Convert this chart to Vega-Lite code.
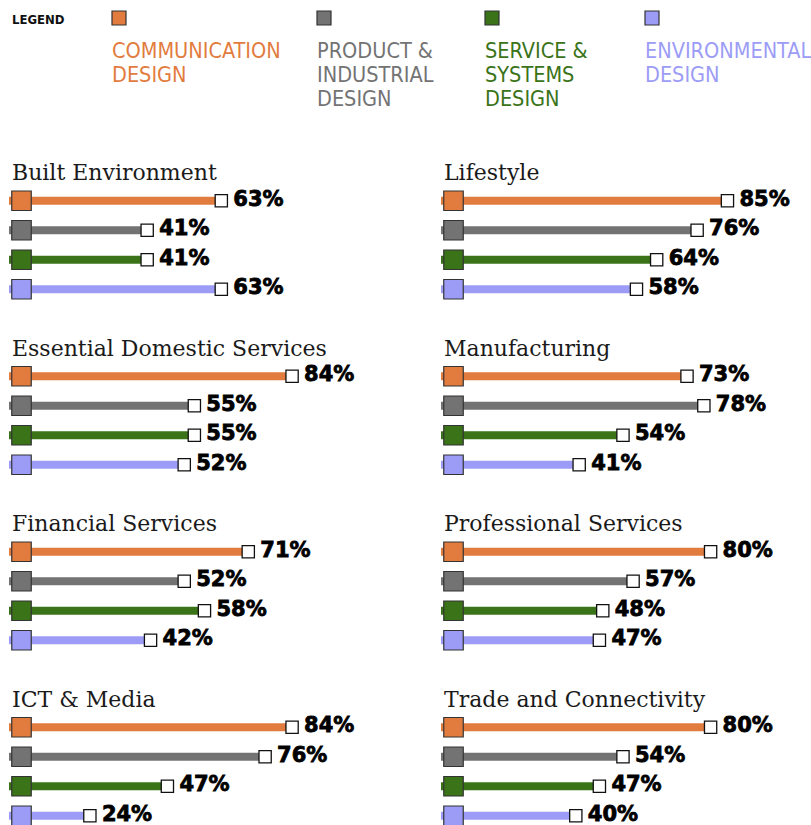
{
  "$schema": "https://vega.github.io/schema/vega-lite/v6.json",
  "padding": {"left": 9, "top": 0, "right": 0, "bottom": 0},
  "background": "white",
  "config": {"view": {"stroke": null}, "header": {"labels": false, "title": null}},
  "datasets": {
    "legend": [
      {"key": "LEGEND", "label": "LEGEND"},
      {"key": "Communication Design", "label": "COMMUNICATION\nDESIGN"},
      {"key": "Product & Industrial Design", "label": "PRODUCT &\nINDUSTRIAL\nDESIGN"},
      {"key": "Service & Systems Design", "label": "SERVICE &\nSYSTEMS\nDESIGN"},
      {"key": "Environmental Design", "label": "ENVIRONMENTAL\nDESIGN"}
    ],
    "sectors": [
      {"sector": "Built Environment", "cat": "Communication Design", "value": 0.63},
      {"sector": "Built Environment", "cat": "Product & Industrial Design", "value": 0.41},
      {"sector": "Built Environment", "cat": "Service & Systems Design", "value": 0.41},
      {"sector": "Built Environment", "cat": "Environmental Design", "value": 0.63},
      {"sector": "Lifestyle", "cat": "Communication Design", "value": 0.85},
      {"sector": "Lifestyle", "cat": "Product & Industrial Design", "value": 0.76},
      {"sector": "Lifestyle", "cat": "Service & Systems Design", "value": 0.64},
      {"sector": "Lifestyle", "cat": "Environmental Design", "value": 0.58},
      {"sector": "Essential Domestic Services", "cat": "Communication Design", "value": 0.84},
      {"sector": "Essential Domestic Services", "cat": "Product & Industrial Design", "value": 0.55},
      {"sector": "Essential Domestic Services", "cat": "Service & Systems Design", "value": 0.55},
      {"sector": "Essential Domestic Services", "cat": "Environmental Design", "value": 0.52},
      {"sector": "Manufacturing", "cat": "Communication Design", "value": 0.73},
      {"sector": "Manufacturing", "cat": "Product & Industrial Design", "value": 0.78},
      {"sector": "Manufacturing", "cat": "Service & Systems Design", "value": 0.54},
      {"sector": "Manufacturing", "cat": "Environmental Design", "value": 0.41},
      {"sector": "Financial Services", "cat": "Communication Design", "value": 0.71},
      {"sector": "Financial Services", "cat": "Product & Industrial Design", "value": 0.52},
      {"sector": "Financial Services", "cat": "Service & Systems Design", "value": 0.58},
      {"sector": "Financial Services", "cat": "Environmental Design", "value": 0.42},
      {"sector": "Professional Services", "cat": "Communication Design", "value": 0.80},
      {"sector": "Professional Services", "cat": "Product & Industrial Design", "value": 0.57},
      {"sector": "Professional Services", "cat": "Service & Systems Design", "value": 0.48},
      {"sector": "Professional Services", "cat": "Environmental Design", "value": 0.47},
      {"sector": "ICT & Media", "cat": "Communication Design", "value": 0.84},
      {"sector": "ICT & Media", "cat": "Product & Industrial Design", "value": 0.76},
      {"sector": "ICT & Media", "cat": "Service & Systems Design", "value": 0.47},
      {"sector": "ICT & Media", "cat": "Environmental Design", "value": 0.24},
      {"sector": "Trade and Connectivity", "cat": "Communication Design", "value": 0.80},
      {"sector": "Trade and Connectivity", "cat": "Product & Industrial Design", "value": 0.54},
      {"sector": "Trade and Connectivity", "cat": "Service & Systems Design", "value": 0.47},
      {"sector": "Trade and Connectivity", "cat": "Environmental Design", "value": 0.40}
    ]
  },
  "bounds": "flush",
  "spacing": 156.5,
  "vconcat": [
    {
      "data": {"name": "legend"},
      "bounds": "flush",
      "spacing": 0,
      "hconcat": [
        {
          "width": 102, "height": 59,
          "transform": [{"filter": "datum.key === 'LEGEND'"}, {"calculate": "'swatch'", "as": "row"}],
          "mark": {"type": "text", "align": "left", "baseline": "middle", "dy": 2, "dx": 3, "font": "'DejaVu Sans Condensed', 'DejaVu Sans'", "fontWeight": "bold", "fontSize": 13, "color": "#111"},
          "encoding": {
            "x": {"field": "key", "type": "nominal", "axis": null, "scale": {"type": "point", "padding": 0, "align": 0}},
            "y": {"field": "row", "type": "nominal", "axis": null, "scale": {"type": "point", "domain": ["swatch", "label"], "padding": 0.783}},
            "text": {"field": "label"}
          }
        },
        {
          "width": 205, "height": 59,
          "transform": [{"filter": "datum.key === 'Communication Design'"}],
          "layer": [
            {
              "transform": [{"calculate": "'swatch'", "as": "row"}],
              "mark": {"type": "point", "shape": "square", "size": 196, "filled": true, "stroke": "#333", "strokeWidth": 1.2, "opacity": 1, "xOffset": 8},
              "encoding": {
                "x": {"field": "key", "type": "nominal", "axis": null, "scale": {"type": "point", "padding": 0, "align": 0}},
                "y": {"field": "row", "type": "nominal", "axis": null, "scale": {"type": "point", "domain": ["swatch", "label"], "padding": 0.783}},
                "fill": {"field": "key", "type": "nominal", "legend": null, "scale": {"domain": ["Communication Design", "Product & Industrial Design", "Service & Systems Design", "Environmental Design"], "range": ["#E27C3E", "#737373", "#3A7318", "#9C9CF6"]}}
              }
            },
            {
              "transform": [{"calculate": "'label'", "as": "row"}],
              "mark": {"type": "text", "align": "left", "baseline": "top", "dx": 1, "lineBreak": "\n", "lineHeight": 24, "font": "'DejaVu Sans Condensed', 'Liberation Sans Narrow', 'DejaVu Sans Mono'", "fontSize": 21.5, "fontWeight": 500},
              "encoding": {
                "x": {"field": "key", "type": "nominal"},
                "y": {"field": "row", "type": "nominal"},
                "text": {"field": "label"},
                "color": {"field": "key", "type": "nominal", "legend": null, "scale": {"domain": ["Communication Design", "Product & Industrial Design", "Service & Systems Design", "Environmental Design"], "range": ["#E27C3E", "#737373", "#3A7318", "#9C9CF6"]}}
              }
            }
          ]
        },
        {
          "width": 168, "height": 59,
          "transform": [{"filter": "datum.key === 'Product & Industrial Design'"}],
          "layer": [
            {
              "transform": [{"calculate": "'swatch'", "as": "row"}],
              "mark": {"type": "point", "shape": "square", "size": 196, "filled": true, "stroke": "#333", "strokeWidth": 1.2, "opacity": 1, "xOffset": 8},
              "encoding": {
                "x": {"field": "key", "type": "nominal", "axis": null, "scale": {"type": "point", "padding": 0, "align": 0}},
                "y": {"field": "row", "type": "nominal", "axis": null, "scale": {"type": "point", "domain": ["swatch", "label"], "padding": 0.783}},
                "fill": {"field": "key", "type": "nominal", "legend": null, "scale": {"domain": ["Communication Design", "Product & Industrial Design", "Service & Systems Design", "Environmental Design"], "range": ["#E27C3E", "#737373", "#3A7318", "#9C9CF6"]}}
              }
            },
            {
              "transform": [{"calculate": "'label'", "as": "row"}],
              "mark": {"type": "text", "align": "left", "baseline": "top", "dx": 1, "lineBreak": "\n", "lineHeight": 24, "font": "'DejaVu Sans Condensed', 'Liberation Sans Narrow', 'DejaVu Sans Mono'", "fontSize": 21.5, "fontWeight": 500},
              "encoding": {
                "x": {"field": "key", "type": "nominal"},
                "y": {"field": "row", "type": "nominal"},
                "text": {"field": "label"},
                "color": {"field": "key", "type": "nominal", "legend": null, "scale": {"domain": ["Communication Design", "Product & Industrial Design", "Service & Systems Design", "Environmental Design"], "range": ["#E27C3E", "#737373", "#3A7318", "#9C9CF6"]}}
              }
            }
          ]
        },
        {
          "width": 160, "height": 59,
          "transform": [{"filter": "datum.key === 'Service & Systems Design'"}],
          "layer": [
            {
              "transform": [{"calculate": "'swatch'", "as": "row"}],
              "mark": {"type": "point", "shape": "square", "size": 196, "filled": true, "stroke": "#333", "strokeWidth": 1.2, "opacity": 1, "xOffset": 8},
              "encoding": {
                "x": {"field": "key", "type": "nominal", "axis": null, "scale": {"type": "point", "padding": 0, "align": 0}},
                "y": {"field": "row", "type": "nominal", "axis": null, "scale": {"type": "point", "domain": ["swatch", "label"], "padding": 0.783}},
                "fill": {"field": "key", "type": "nominal", "legend": null, "scale": {"domain": ["Communication Design", "Product & Industrial Design", "Service & Systems Design", "Environmental Design"], "range": ["#E27C3E", "#737373", "#3A7318", "#9C9CF6"]}}
              }
            },
            {
              "transform": [{"calculate": "'label'", "as": "row"}],
              "mark": {"type": "text", "align": "left", "baseline": "top", "dx": 1, "lineBreak": "\n", "lineHeight": 24, "font": "'DejaVu Sans Condensed', 'Liberation Sans Narrow', 'DejaVu Sans Mono'", "fontSize": 21.5, "fontWeight": 500},
              "encoding": {
                "x": {"field": "key", "type": "nominal"},
                "y": {"field": "row", "type": "nominal"},
                "text": {"field": "label"},
                "color": {"field": "key", "type": "nominal", "legend": null, "scale": {"domain": ["Communication Design", "Product & Industrial Design", "Service & Systems Design", "Environmental Design"], "range": ["#E27C3E", "#737373", "#3A7318", "#9C9CF6"]}}
              }
            }
          ]
        },
        {
          "width": 163, "height": 59,
          "transform": [{"filter": "datum.key === 'Environmental Design'"}],
          "layer": [
            {
              "transform": [{"calculate": "'swatch'", "as": "row"}],
              "mark": {"type": "point", "shape": "square", "size": 196, "filled": true, "stroke": "#333", "strokeWidth": 1.2, "opacity": 1, "xOffset": 8},
              "encoding": {
                "x": {"field": "key", "type": "nominal", "axis": null, "scale": {"type": "point", "padding": 0, "align": 0}},
                "y": {"field": "row", "type": "nominal", "axis": null, "scale": {"type": "point", "domain": ["swatch", "label"], "padding": 0.783}},
                "fill": {"field": "key", "type": "nominal", "legend": null, "scale": {"domain": ["Communication Design", "Product & Industrial Design", "Service & Systems Design", "Environmental Design"], "range": ["#E27C3E", "#737373", "#3A7318", "#9C9CF6"]}}
              }
            },
            {
              "transform": [{"calculate": "'label'", "as": "row"}],
              "mark": {"type": "text", "align": "left", "baseline": "top", "dx": 1, "lineBreak": "\n", "lineHeight": 24, "font": "'DejaVu Sans Condensed', 'Liberation Sans Narrow', 'DejaVu Sans Mono'", "fontSize": 21.5, "fontWeight": 500},
              "encoding": {
                "x": {"field": "key", "type": "nominal"},
                "y": {"field": "row", "type": "nominal"},
                "text": {"field": "label"},
                "color": {"field": "key", "type": "nominal", "legend": null, "scale": {"domain": ["Communication Design", "Product & Industrial Design", "Service & Systems Design", "Environmental Design"], "range": ["#E27C3E", "#737373", "#3A7318", "#9C9CF6"]}}
              }
            }
          ]
        }
      ]
    },
    {
      "data": {"name": "sectors"},
      "columns": 2,
      "bounds": "flush",
      "spacing": {"row": 27.5, "column": 95},
      "facet": {
        "field": "sector", "type": "nominal",
        "sort": ["Built Environment", "Lifestyle", "Essential Domestic Services", "Manufacturing", "Financial Services", "Professional Services", "ICT & Media", "Trade and Connectivity"],
        "header": {"title": null, "labels": false, "labelExpr": "''", "labelColor": "transparent", "labelFontSize": 1}
      },
      "spec": {
        "width": 337,
        "height": 147.5,
        "layer": [
          {
            "mark": {"type": "bar", "height": 8, "x2Offset": 6},
            "encoding": {
              "y": {"field": "cat", "type": "nominal", "axis": null,
                    "scale": {"type": "band", "paddingInner": 0, "paddingOuter": 0, "domain": ["title", "Communication Design", "Product & Industrial Design", "Service & Systems Design", "Environmental Design"]}},
              "x": {"field": "value", "type": "quantitative", "axis": null, "scale": {"domain": [0, 1]}},
              "color": {"field": "cat", "type": "nominal", "legend": null,
                        "scale": {"domain": ["Communication Design", "Product & Industrial Design", "Service & Systems Design", "Environmental Design"], "range": ["#E27C3E", "#737373", "#3A7318", "#9C9CF6"]}}
            }
          },
          {
            "mark": {"type": "point", "shape": "square", "size": 380, "filled": true, "stroke": "#333", "strokeWidth": 1.2, "opacity": 1, "xOffset": 12.5},
            "encoding": {
              "y": {"field": "cat", "type": "nominal"},
              "x": {"datum": 0, "type": "quantitative"},
              "fill": {"field": "cat", "type": "nominal", "legend": null,
                       "scale": {"domain": ["Communication Design", "Product & Industrial Design", "Service & Systems Design", "Environmental Design"], "range": ["#E27C3E", "#737373", "#3A7318", "#9C9CF6"]}}
            }
          },
          {
            "mark": {"type": "point", "shape": "square", "size": 150, "filled": true, "fill": "white", "stroke": "#111", "strokeWidth": 1.3, "opacity": 1},
            "encoding": {
              "y": {"field": "cat", "type": "nominal"},
              "x": {"field": "value", "type": "quantitative"}
            }
          },
          {
            "mark": {"type": "text", "align": "left", "baseline": "middle", "dx": 12, "dy": -1, "font": "DejaVu Sans", "fontWeight": "bold", "fontSize": 21, "color": "#000", "stroke": "#000", "strokeWidth": 0.8},
            "encoding": {
              "y": {"field": "cat", "type": "nominal"},
              "x": {"field": "value", "type": "quantitative"},
              "text": {"field": "value", "type": "quantitative", "format": ".0%"}
            }
          },
          {
            "transform": [{"filter": "datum.cat === 'Communication Design'"}, {"calculate": "'title'", "as": "row"}],
            "mark": {"type": "text", "align": "left", "baseline": "middle", "dx": 3, "dy": 2, "font": "DejaVu Serif", "fontSize": 22, "color": "#1a1a1a"},
            "encoding": {
              "y": {"field": "row", "type": "nominal"},
              "x": {"datum": 0, "type": "quantitative"},
              "text": {"field": "sector"}
            }
          }
        ]
      }
    }
  ]
}
